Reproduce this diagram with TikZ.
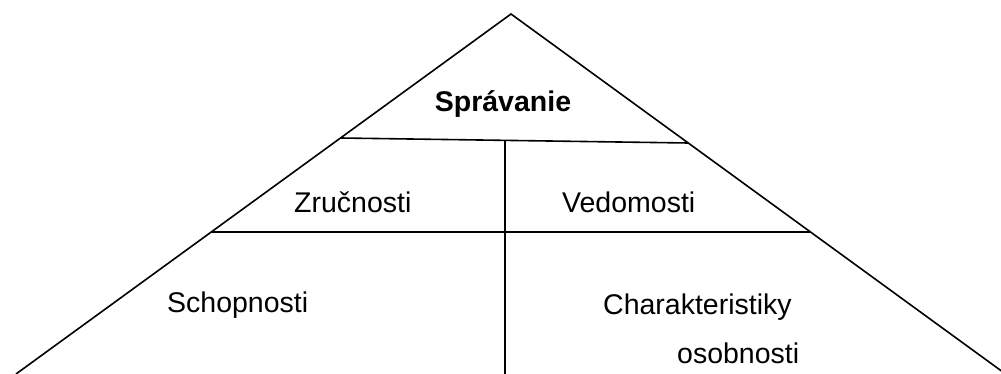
\documentclass[tikz,border=0pt]{standalone}
\usepackage{fontspec}
\setmainfont{Liberation Sans}
\begin{document}
\begin{tikzpicture}[x=1pt,y=-1pt,
  edge/.style={line width=1.6pt, line cap=butt, line join=miter},
  label/.style={font=\fontsize{28.5}{34}\selectfont, inner sep=0pt, anchor=base west}]
\useasboundingbox (0,0) rectangle (1001,374);
\clip (0,0) rectangle (1001,374);
% corners of the pyramid
\coordinate (apex) at (511,14);
\coordinate (baseL) at (16,374);
\coordinate (baseR) at (1005.6,374);
% ends of the two cross lines
\coordinate (r1L) at (340.5,138);
\coordinate (r1R) at (688.2,143);
\coordinate (r1M) at (505,140.6);
\coordinate (r2L) at (211.3,232);
\coordinate (r2R) at (810.5,232);
\coordinate (bottomM) at (505,374);
% outline and divisions
\draw[edge] (baseL) -- (apex) -- (baseR);
\draw[edge] (r1L) -- (r1R);
\draw[edge] (r2L) -- (r2R);
\draw[edge] (r1M) -- (bottomM);
% labels
\node[label, anchor=base] (spravanie) at (503,112) {\bfseries Správanie};
\node[label] (zrucnosti) at (294,213) {Zručnosti};
\node[label] (vedomosti) at (562,213) {Vedomosti};
\node[label] (schopnosti) at (167,312) {Schopnosti};
\node[label] (charakt) at (603,314) {Charakteristiky};
\node[label] (osobnosti) at (677,363) {osobnosti};
\end{tikzpicture}
\end{document}
